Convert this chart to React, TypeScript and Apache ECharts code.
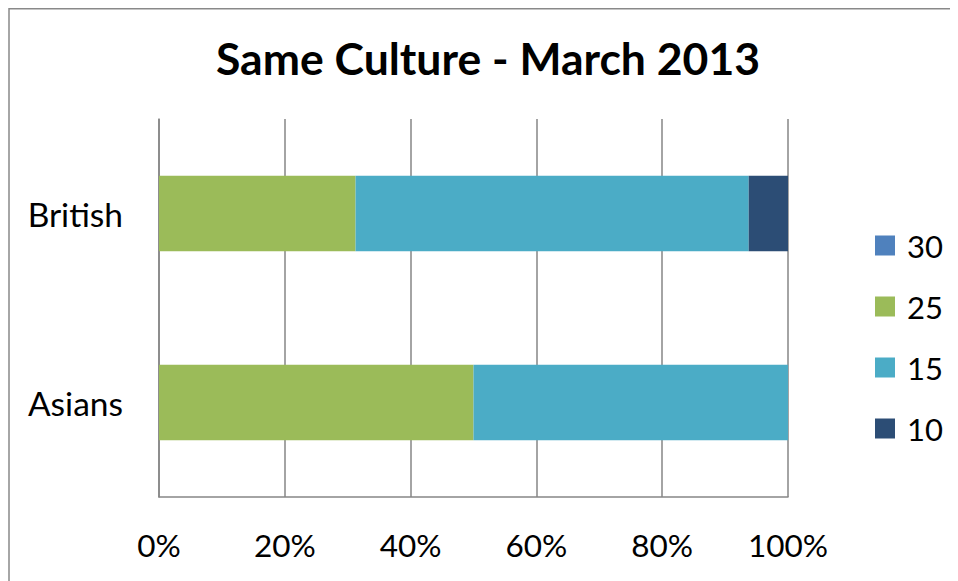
import React, { useEffect, useRef } from "react";
import * as echarts from "echarts";

const categories = ["British", "Asians"];
const seriesNames = ["30", "25", "15", "10"];
const seriesColors = ["#4F81BD", "#9BBB59", "#4BACC6", "#2C4D75"];
// percentage shares per category (British, Asians)
const values30 = [0, 0];
const values25 = [31.25, 50];
const values15 = [62.5, 50];
const values10 = [6.25, 0];
const xTicks = [0, 20, 40, 60, 80, 100];

const FONT = "Lato";

export default function App() {
  const ref = useRef<HTMLDivElement>(null);
  useEffect(() => {
    if (!ref.current) return;
    document.body.style.overflow = "hidden";
    const chart = echarts.init(ref.current, undefined, { renderer: "svg" });
    const allValues = [values30, values25, values15, values10];
    chart.setOption({
      animation: false,
      backgroundColor: "#ffffff",
      title: {
        text: "Same Culture - March 2013",
        left: "center",
        top: 22,
        textStyle: { fontFamily: FONT, fontSize: 44.5, fontWeight: "bold", color: "#000" },
      },
      legend: {
        orient: "vertical",
        left: 867,
        top: 222,
        padding: 0,
        itemWidth: 20,
        itemHeight: 20,
        itemGap: 30,
        icon: "rect",
        data: seriesNames,
        textStyle: {
          fontFamily: FONT,
          fontSize: 31,
          color: "#000",
          padding: [0, 0, 0, 7],
        },
      },
      grid: { left: 151, top: 111, width: 629, height: 378, containLabel: false },
      xAxis: {
        type: "value",
        min: xTicks[0],
        max: xTicks[xTicks.length - 1],
        interval: 20,
        axisLine: { show: true, lineStyle: { color: "#868686", width: 1.5 } },
        axisTick: { show: false },
        splitLine: { show: true, lineStyle: { color: "#868686", width: 1.5 } },
        axisLabel: {
          formatter: (v: number) => v + "%",
          fontFamily: FONT,
          fontSize: 31.5,
          color: "#000",
          margin: 32,
        },
      },
      yAxis: {
        type: "category",
        data: categories,
        inverse: true,
        axisLine: { show: true, lineStyle: { color: "#868686", width: 1.5 } },
        axisTick: { show: false },
        axisLabel: { fontFamily: FONT, fontSize: 33.5, color: "#000", margin: 36 },
      },
      series: seriesNames.map((name, i) => ({
        name,
        type: "bar",
        stack: "total",
        barCategoryGap: "60%",
        itemStyle: { color: seriesColors[i] },
        data: allValues[i],
      })),
      graphic: [
        {
          type: "line",
          shape: { x1: 1, y1: 0.75, x2: 2000, y2: 0.75 },
          style: { stroke: "#898989", lineWidth: 1.5 },
          silent: true,
        },
        {
          type: "line",
          shape: { x1: 1, y1: 0, x2: 1, y2: 2000 },
          style: { stroke: "#898989", lineWidth: 1.5 },
          silent: true,
        },
      ],
    });
    return () => chart.dispose();
  }, []);
  return <div ref={ref} style={{ width: 960, height: 580 }} />;
}
